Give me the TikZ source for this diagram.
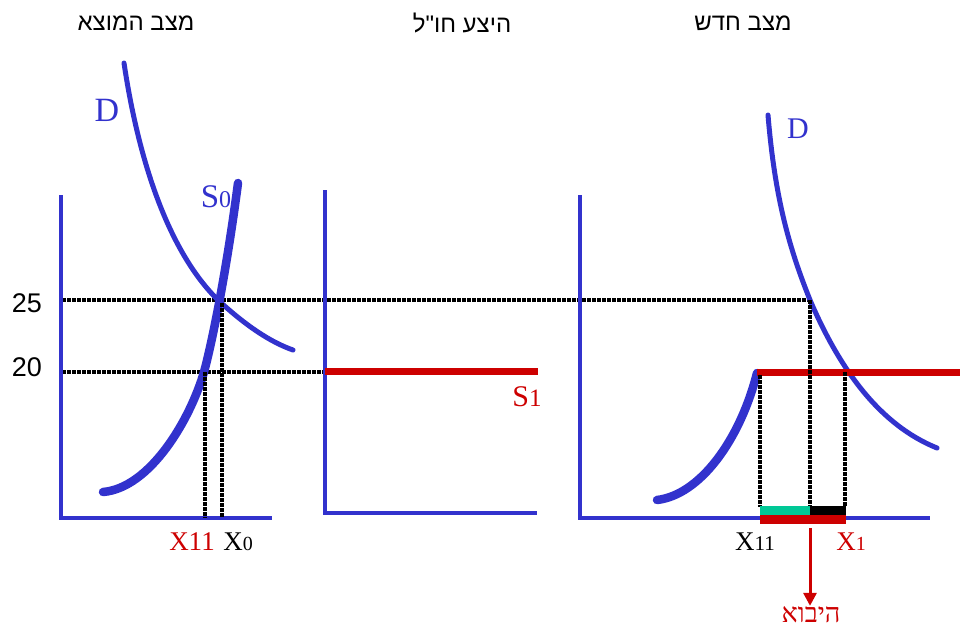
\documentclass[tikz,border=0pt]{standalone}
\usepackage{fontspec}
\setmainfont{Liberation Serif}
\newfontfamily\hebsans[Script=Hebrew]{Liberation Sans}
\newfontfamily\hebserif[Script=Hebrew]{Liberation Serif}
\newfontfamily\numsans{Liberation Sans}
\TeXXeTstate=1
\usetikzlibrary{arrows.meta}
\definecolor{cblue}{RGB}{50,50,205}
\definecolor{cred}{RGB}{205,0,0}
\definecolor{cgreen}{RGB}{0,200,150}
\newcommand{\fsz}[1]{\fontsize{#1}{#1}\selectfont}
\tikzset{
 axisline/.style={cblue,line width=4pt,line join=miter},
 dcurve/.style={cblue,line width=5pt,line cap=round},
 scurve/.style={cblue,line width=8.5pt,line cap=round},
 guide/.style={black,line width=3.5pt,dash pattern=on 3.5pt off 1.5pt},
 vguide/.style={black,line width=3.2pt,dash pattern=on 3.5pt off 1.5pt},
 redline/.style={cred,line width=7pt},
 title/.style={font=\hebsans\fsz{24},text=black,inner sep=0pt},
 lbl/.style={inner sep=0pt},
 num/.style={font=\numsans\fsz{27},text=black,inner sep=0pt},
}
\begin{document}
\begin{tikzpicture}[x=1pt,y=-1pt]
\useasboundingbox (0,0) rectangle (960,626);
% titles
\node[title] (t1) at (136,23) {\beginR מצב המוצא\endR};
\node[title] (t2) at (462,23) {\beginR היצע חו"ל\endR};
\node[title] (t3) at (743,23) {\beginR מצב חדש\endR};
% horizontal guides
\draw[guide] (62,300) -- (810,300);
\draw[guide] (62,372) -- (325,372);
% axes
\draw[axisline] (61,195) -- (61,518) -- (272,518);
\draw[axisline] (325,190) -- (325,513) -- (537,513);
\draw[axisline] (580,195) -- (580,518) -- (930,518);
% panel 1 curves
\draw[dcurve] (124,63) .. controls (140,170) and (172,255) .. (218,300) .. controls (245,325) and (270,342) .. (293,350);
\draw[scurve] (103,492) .. controls (150,488) and (190,420) .. (204,372) .. controls (214,335) and (228,260) .. (238,183);
% panel 1 vertical guides
\draw[vguide,line width=3.6pt] (205,372) -- (205,518);
\draw[vguide,line width=3.6pt] (222,303) -- (222,518);
% panel 2
\draw[redline] (325,371) -- (538,371);
% panel 3 curves
\draw[dcurve] (768,115) .. controls (775,200) and (790,250) .. (810,300) .. controls (840,370) and (880,425) .. (937,448);
\draw[scurve] (657,500) .. controls (700,495) and (740,440) .. (757,373);
\draw[redline] (757,372.5) -- (962,372.5);
% panel 3 vertical guides
\draw[vguide] (760,375) -- (760,507);
\draw[vguide] (810,300) -- (810,507);
\draw[vguide] (845,372) -- (845,507);
% bars
\fill[cgreen] (760,506) rectangle (810,515);
\fill[black] (810,506) rectangle (846,515);
\fill[cred] (760,515) rectangle (846,524);
% import arrow
\coordinate (a0) at (810,528);
\node[lbl,font=\hebserif\fsz{27},text=cred,anchor=base] (imp) at (811,622) {\beginR היבוא\endR};
\draw[cred,line width=3pt,-{Triangle[length=13pt,width=13pt]}] (a0) -- (imp.north -| a0);
% labels
\node[num] (n25) at (27,303) {25};
\node[num] (n20) at (27,367) {20};
\node[lbl,text=cblue,font=\fsz{34}] (d1) at (107,110) {D};
\node[lbl,text=cblue,font=\fsz{33}] (s0) at (216,197) {S\fsz{24}0};
\node[lbl,text=cred,font=\fsz{30}] (s1) at (527,397) {S\fsz{25}1};
\node[lbl,text=cred,font=\fsz{27}] (x11a) at (192,542) {X11};
\node[lbl,text=black,font=\fsz{27}] (x0) at (238,542) {X\fsz{20}0};
\node[lbl,text=cblue,font=\fsz{30}] (d2) at (798,129) {D};
\node[lbl,text=black,font=\fsz{27}] (x11b) at (755,542) {X\fsz{21}11};
\node[lbl,text=cred,font=\fsz{27}] (x1) at (851,542) {X\fsz{20}1};
\end{tikzpicture}
\end{document}
